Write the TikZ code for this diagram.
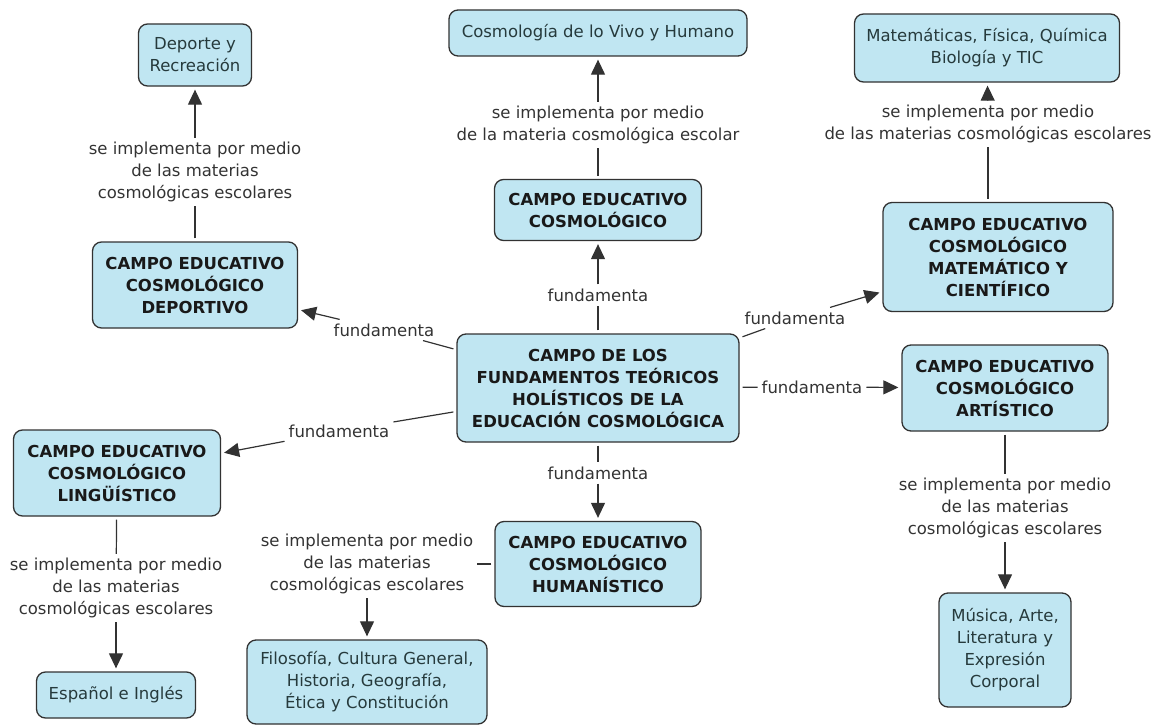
\documentclass[tikz,border=0pt]{standalone}
\usepackage{fontspec}
\setmainfont{DejaVu Sans}
\usetikzlibrary{arrows.meta}

\definecolor{cmapfill}{RGB}{192,230,242}
\definecolor{cmapline}{RGB}{50,50,50}
\definecolor{leaftext}{RGB}{38,58,60}

\begin{document}
\begin{tikzpicture}[x=1pt, y=-1pt,
  campo/.style={draw=cmapline, line width=1.3pt, fill=cmapfill, rounded corners=9pt,
                align=center, inner sep=2pt, text=black!90,
                font=\fontsize{16.5}{22}\selectfont\bfseries},
  materia/.style={campo, text=leaftext, font=\fontsize{16.5}{22}\selectfont},
  enlace/.style={align=center, inner sep=4pt, text=black!80,
                 font=\fontsize{16.5}{22}\selectfont},
  linea/.style={draw=cmapline, line width=1.2pt, shorten <=3pt},
  flecha/.style={linea, -{Triangle[length=15pt, width=14pt]}, shorten >=3pt, shorten <=0pt},
]
\useasboundingbox (0,0) rectangle (1156,725);

% Concepto central
\node[campo, minimum width=282pt, minimum height=108pt] (fundamentos) at (598,388)
  {CAMPO DE LOS\\FUNDAMENTOS TEÓRICOS\\HOLÍSTICOS DE LA\\EDUCACIÓN COSMOLÓGICA};

% Campos educativos
\node[campo, minimum width=207pt, minimum height=61pt] (cosmo) at (598,210)
  {CAMPO EDUCATIVO\\COSMOLÓGICO};
\node[campo, minimum width=205pt, minimum height=86pt] (deportivo) at (195,285)
  {CAMPO EDUCATIVO\\COSMOLÓGICO\\DEPORTIVO};
\node[campo, minimum width=230pt, minimum height=109pt] (matematico) at (998,257)
  {CAMPO EDUCATIVO\\COSMOLÓGICO\\MATEMÁTICO Y\\CIENTÍFICO};
\node[campo, minimum width=206pt, minimum height=86pt] (artistico) at (1005,388)
  {CAMPO EDUCATIVO\\COSMOLÓGICO\\ARTÍSTICO};
\node[campo, minimum width=207pt, minimum height=86pt] (linguistico) at (117,473)
  {CAMPO EDUCATIVO\\COSMOLÓGICO\\LINGÜÍSTICO};
\node[campo, minimum width=206pt, minimum height=85pt] (humanistico) at (598,564)
  {CAMPO EDUCATIVO\\COSMOLÓGICO\\HUMANÍSTICO};

% Materias escolares
\node[materia, minimum width=113pt, minimum height=62pt] (deporte) at (195,55)
  {Deporte y\\Recreación};
\node[materia, minimum width=298pt, minimum height=46pt] (vivo) at (598,33)
  {Cosmología de lo Vivo y Humano};
\node[materia, minimum width=265pt, minimum height=68pt] (ciencias) at (987,48)
  {Matemáticas, Física, Química\\Biología y TIC};
\node[materia, minimum width=159pt, minimum height=46pt] (espanol) at (116,695)
  {Español e Inglés};
\node[materia, minimum width=240pt, minimum height=84pt] (filosofia) at (367,682)
  {Filosofía, Cultura General,\\Historia, Geografía,\\Ética y Constitución};
\node[materia, minimum width=132pt, minimum height=114pt] (musica) at (1005,650)
  {Música, Arte,\\Literatura y\\Expresión\\Corporal};

% Frases de enlace
\node[enlace] (f-cosmo) at (598,295) {fundamenta};
\node[enlace] (f-deportivo) at (384,330) {fundamenta};
\node[enlace] (f-matematico) at (795,318) {fundamenta};
\node[enlace] (f-artistico) at (812,387) {fundamenta};
\node[enlace] (f-linguistico) at (339,431) {fundamenta};
\node[enlace] (f-humanistico) at (598,473) {fundamenta};
\node[enlace] (l-deporte) at (195,172)
  {se implementa por medio\\de las materias\\cosmológicas escolares};
\node[enlace] (l-vivo) at (598,125)
  {se implementa por medio\\de la materia cosmológica escolar};
\node[enlace] (l-ciencias) at (988,124)
  {se implementa por medio\\de las materias cosmológicas escolares};
\node[enlace] (l-espanol) at (116,588)
  {se implementa por medio\\de las materias\\cosmológicas escolares};
\node[enlace] (l-filosofia) at (367,564)
  {se implementa por medio\\de las materias\\cosmológicas escolares};
\node[enlace] (l-musica) at (1005,508)
  {se implementa por medio\\de las materias\\cosmológicas escolares};

% Conexiones del concepto central
\draw[linea] (fundamentos) -- (f-cosmo);
\draw[flecha] (f-cosmo) -- (cosmo);
\draw[linea] (fundamentos) -- (f-deportivo);
\draw[flecha] (f-deportivo) -- (deportivo);
\draw[linea] (fundamentos) -- (f-matematico);
\draw[flecha] (f-matematico) -- (matematico);
\draw[linea] (fundamentos) -- (f-artistico);
\draw[flecha] (f-artistico) -- (artistico);
\draw[linea] (fundamentos) -- (f-linguistico);
\draw[flecha] (f-linguistico) -- (linguistico);
\draw[linea] (fundamentos) -- (f-humanistico);
\draw[flecha] (f-humanistico) -- (humanistico);

% Conexiones hacia las materias
\draw[linea] (deportivo) -- (l-deporte);
\draw[flecha] (l-deporte) -- (deporte);
\draw[linea] (cosmo) -- (l-vivo);
\draw[flecha] (l-vivo) -- (vivo);
\draw[linea] (l-ciencias |- matematico.north) -- (l-ciencias);
\draw[flecha] (l-ciencias) -- (ciencias);
\draw[linea] (linguistico) -- (l-espanol);
\draw[flecha] (l-espanol) -- (espanol);
\draw[linea] (humanistico) -- (l-filosofia);
\draw[flecha] (l-filosofia) -- (filosofia);
\draw[linea] (artistico) -- (l-musica);
\draw[flecha] (l-musica) -- (musica);

\end{tikzpicture}
\end{document}
